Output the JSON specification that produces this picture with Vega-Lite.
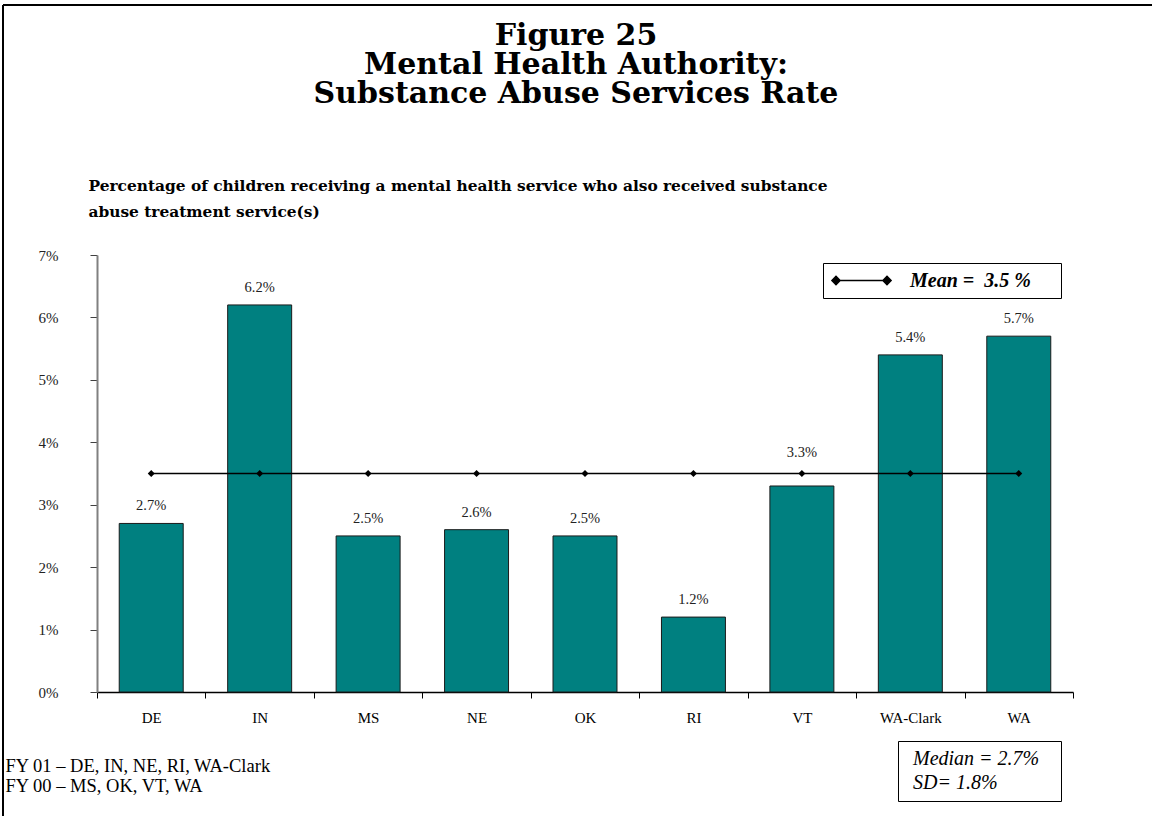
{
  "$schema": "https://vega.github.io/schema/vega-lite/v6.json",
  "width": 1149,
  "height": 811,
  "autosize": {"type": "none"},
  "padding": {"left": 3, "top": 5, "right": 0, "bottom": 0},
  "background": "white",
  "config": {
    "font": "Liberation Serif",
    "view": {"stroke": "black", "strokeWidth": 2, "strokeDash": [1149, 1960, 811, 0]}
  },
  "title": {
    "text": ["Figure 25", "Mental Health Authority:", "Substance Abuse Services Rate"],
    "font": "DejaVu Serif",
    "fontSize": 30,
    "fontWeight": "bold",
    "lineHeight": 29,
    "anchor": "middle",
    "frame": "group",
    "offset": -104,
    "dx": -1.5,
    "color": "black"
  },
  "data": {
    "values": [
      {"state": "DE", "rate": 0.027, "mean": 0.035},
      {"state": "IN", "rate": 0.062, "mean": 0.035},
      {"state": "MS", "rate": 0.025, "mean": 0.035},
      {"state": "NE", "rate": 0.026, "mean": 0.035},
      {"state": "OK", "rate": 0.025, "mean": 0.035},
      {"state": "RI", "rate": 0.012, "mean": 0.035},
      {"state": "VT", "rate": 0.033, "mean": 0.035},
      {"state": "WA-Clark", "rate": 0.054, "mean": 0.035},
      {"state": "WA", "rate": 0.057, "mean": 0.035}
    ]
  },
  "layer": [
    {
      "mark": {"type": "bar", "fill": "#008080", "stroke": "#1a1a1a", "strokeWidth": 1, "width": {"band": 0.59}},
      "encoding": {
        "x": {
          "field": "state", "type": "nominal", "sort": null,
          "scale": {"range": [94, 1070], "paddingInner": 0, "paddingOuter": 0},
          "axis": {
            "orient": "bottom", "offset": -124, "tickBand": "extent", "tickSize": 6,
            "tickColor": "black", "domainColor": "black", "domainWidth": 1.5,
            "labelAngle": 0, "labelFont": "Liberation Serif", "labelFontSize": 15, "labelPadding": 12, "labelColor": "black",
            "title": ["FY 01 – DE, IN, NE, RI, WA-Clark", "FY 00 – MS, OK, VT, WA"],
            "titleX": 2, "titleY": 79, "titleAlign": "left", "titleAnchor": "start", "titleBaseline": "alphabetic",
            "titleFont": "Liberation Serif", "titleFontSize": 18.5, "titleFontWeight": "normal", "titleLineHeight": 20,
            "titleColor": "black", "titleLimit": 2000
          }
        },
        "y": {
          "field": "rate", "type": "quantitative",
          "scale": {"domain": [0, 0.07], "range": [687, 250], "nice": false, "zero": true},
          "axis": {
            "orient": "left", "offset": -94, "values": [0, 0.01, 0.02, 0.03, 0.04, 0.05, 0.06, 0.07],
            "format": ".0%", "grid": false, "tickSize": 7, "tickColor": "#404040", "tickWidth": 1,
            "domainColor": "#808080", "domainWidth": 2,
            "labelFont": "Liberation Serif", "labelFontSize": 15, "labelColor": "#222222", "labelPadding": 32,
            "title": ["Percentage of children receiving a mental health service who also received substance", "abuse treatment service(s)"],
            "titleAngle": 0, "titleAlign": "left", "titleBaseline": "alphabetic", "titleX": -9, "titleY": 185,
            "titleFont": "DejaVu Serif", "titleFontSize": 15.4, "titleFontWeight": "bold", "titleLineHeight": 26,
            "titleColor": "black", "titleLimit": 2000
          }
        }
      }
    },
    {
      "transform": [{"filter": "datum.state !== 'VT'"}],
      "mark": {"type": "text", "baseline": "alphabetic", "dy": -13, "fontSize": 14.5, "font": "Liberation Serif", "color": "#222222"},
      "encoding": {
        "x": {"field": "state", "type": "nominal", "sort": null},
        "y": {"field": "rate", "type": "quantitative"},
        "text": {"field": "rate", "type": "quantitative", "format": ".1%"}
      }
    },
    {
      "transform": [{"filter": "datum.state === 'VT'"}],
      "mark": {"type": "text", "baseline": "alphabetic", "dy": -29, "fontSize": 14.5, "font": "Liberation Serif", "color": "#222222"},
      "encoding": {
        "x": {"field": "state", "type": "nominal", "sort": null},
        "y": {"field": "rate", "type": "quantitative"},
        "text": {"field": "rate", "type": "quantitative", "format": ".1%"}
      }
    },
    {
      "mark": {"type": "line", "strokeWidth": 1.5},
      "encoding": {
        "x": {"field": "state", "type": "nominal", "sort": null},
        "y": {"field": "mean", "type": "quantitative"},
        "color": {
          "datum": "Mean = \u00a03.5 %",
          "scale": {"range": ["black"]},
          "legend": {
            "orient": "none", "legendX": 820, "legendY": 258, "title": null,
            "strokeColor": "black", "padding": 6, "clipHeight": 23,
            "symbolType": "M-1,0L1,0M-1.16,0L-1,-0.16L-0.84,0L-1,0.16ZM0.84,0L1,-0.16L1.16,0L1,0.16Z",
            "symbolSize": 2601, "symbolStrokeWidth": 1.5, "symbolOffset": 6,
            "labelOffset": 22, "labelFont": "Liberation Serif", "labelFontSize": 20,
            "labelFontStyle": "italic", "labelFontWeight": "bold", "labelColor": "black", "labelLimit": 400,
            "labelExpr": "datum.label + '\u00a0\u00a0\u00a0\u00a0\u2009\u200b'",
            "encode": {"symbols": {"update": {"fill": {"value": "black"}, "stroke": {"value": "black"}, "strokeWidth": {"value": 1.5}, "opacity": {"value": 1}}}}
          }
        }
      }
    },
    {
      "mark": {"type": "point", "shape": "diamond", "filled": true, "size": 49, "opacity": 1},
      "encoding": {
        "x": {"field": "state", "type": "nominal", "sort": null},
        "y": {"field": "mean", "type": "quantitative"},
        "color": {"datum": "Mean = \u00a03.5 %"}
      }
    },
    {
      "data": {"values": [{"stat": "Median = 2.7%"}, {"stat": "SD= 1.8%"}]},
      "mark": {"type": "point", "opacity": 0},
      "encoding": {
        "shape": {
          "field": "stat", "type": "nominal", "sort": null,
          "legend": {
            "orient": "none", "legendX": 895, "legendY": 736, "title": null,
            "strokeColor": "black", "padding": 6, "symbolSize": 0, "symbolOpacity": 0, "symbolStrokeWidth": 0,
            "labelOffset": -11, "labelFont": "Liberation Serif", "labelFontSize": 20, "labelFontStyle": "italic",
            "labelColor": "black", "rowPadding": 0, "clipHeight": 24, "labelLimit": 400,
            "labelExpr": "datum.label + '\u00a0\u00a0\u00a0\u200b'"
          }
        }
      }
    }
  ]
}
